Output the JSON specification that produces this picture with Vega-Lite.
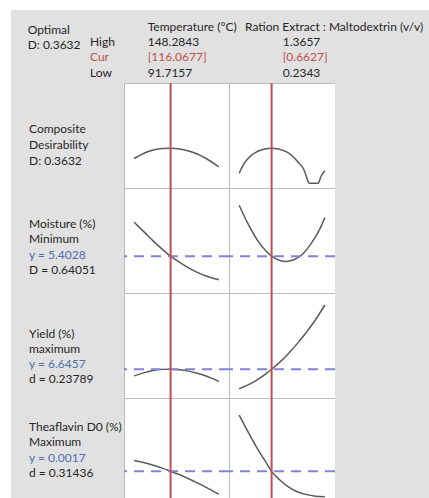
{
  "$schema": "https://vega.github.io/schema/vega-lite/v6.json",
  "background": "white",
  "padding": {"left": 11, "top": 10, "right": 0, "bottom": 0},
  "columns": 4,
  "spacing": 0,
  "bounds": "flush",
  "config": {"concat": {"spacing": 0}, "view": {"stroke": null}, "text": {"font": "Lato", "fontSize": 12}},
  "datasets": {
    "header": [
      {"col": "opt", "line": 0, "text": "Optimal", "kind": "k"},
      {"col": "opt", "line": 1, "text": "D: 0.3632", "kind": "k"},
      {"col": "lvl", "line": 1, "text": "High", "kind": "k"},
      {"col": "lvl", "line": 2, "text": "Cur", "kind": "c"},
      {"col": "lvl", "line": 3, "text": "Low", "kind": "k"},
      {"col": "T", "line": 0, "text": "Temperature (°C)", "kind": "k"},
      {"col": "T", "line": 1, "text": "148.2843", "kind": "k"},
      {"col": "T", "line": 2, "text": "[116.0677]", "kind": "c"},
      {"col": "T", "line": 3, "text": "91.7157", "kind": "k"},
      {"col": "Rh", "line": 0, "text": "Ration Extract : Maltodextrin (v/v)", "kind": "k"},
      {"col": "R", "line": 1, "text": "1.3657", "kind": "k"},
      {"col": "R", "line": 2, "text": "[0.6627]", "kind": "c"},
      {"col": "R", "line": 3, "text": "0.2343", "kind": "k"}
    ],
    "labels": [
      {"resp": "Composite", "line": 1, "text": "Composite", "kind": "k"},
      {"resp": "Composite", "line": 2, "text": "Desirability", "kind": "k"},
      {"resp": "Composite", "line": 3, "text": "D: 0.3632", "kind": "k"},
      {"resp": "Moisture", "line": 1, "text": "Moisture (%)", "kind": "k"},
      {"resp": "Moisture", "line": 2, "text": "Minimum", "kind": "k"},
      {"resp": "Moisture", "line": 3, "text": "y = 5.4028", "kind": "y"},
      {"resp": "Moisture", "line": 4, "text": "D = 0.64051", "kind": "k"},
      {"resp": "Yield", "line": 1, "text": "Yield (%)", "kind": "k"},
      {"resp": "Yield", "line": 2, "text": "maximum", "kind": "k"},
      {"resp": "Yield", "line": 3, "text": "y = 6.6457", "kind": "y"},
      {"resp": "Yield", "line": 4, "text": "d = 0.23789", "kind": "k"},
      {"resp": "Theaflavin", "line": 1, "text": "Theaflavin D0 (%)", "kind": "k"},
      {"resp": "Theaflavin", "line": 2, "text": "Maximum", "kind": "k"},
      {"resp": "Theaflavin", "line": 3, "text": "y = 0.0017", "kind": "y"},
      {"resp": "Theaflavin", "line": 4, "text": "d = 0.31436", "kind": "k"}
    ],
    "settings": [
      {"factor": "T", "cur": 116.0677},
      {"factor": "R", "cur": 0.6627}
    ],
    "targets": [
      {"resp": "Moisture", "y": 5.4028},
      {"resp": "Yield", "y": 6.6457},
      {"resp": "Theaflavin", "y": 0.0017}
    ],
    "curves": [
      {"resp": "Composite", "factor": "T", "x": 91.7157, "y": 0.257},
      {"resp": "Composite", "factor": "T", "x": 98.69, "y": 0.3145},
      {"resp": "Composite", "factor": "T", "x": 104.55, "y": 0.3457},
      {"resp": "Composite", "factor": "T", "x": 110.42, "y": 0.361},
      {"resp": "Composite", "factor": "T", "x": 116.0677, "y": 0.3632},
      {"resp": "Composite", "factor": "T", "x": 122.15, "y": 0.356},
      {"resp": "Composite", "factor": "T", "x": 128.02, "y": 0.335},
      {"resp": "Composite", "factor": "T", "x": 133.89, "y": 0.304},
      {"resp": "Composite", "factor": "T", "x": 139.75, "y": 0.257},
      {"resp": "Composite", "factor": "T", "x": 148.2843, "y": 0.169},
      {"resp": "Composite", "factor": "R", "x": 0.2343, "y": 0.104},
      {"resp": "Composite", "factor": "R", "x": 0.2997, "y": 0.2076},
      {"resp": "Composite", "factor": "R", "x": 0.4176, "y": 0.304},
      {"resp": "Composite", "factor": "R", "x": 0.5709, "y": 0.356},
      {"resp": "Composite", "factor": "R", "x": 0.6627, "y": 0.3632},
      {"resp": "Composite", "factor": "R", "x": 0.8539, "y": 0.328},
      {"resp": "Composite", "factor": "R", "x": 1.0072, "y": 0.224},
      {"resp": "Composite", "factor": "R", "x": 1.1016, "y": 0.12},
      {"resp": "Composite", "factor": "R", "x": 1.1252, "y": 0.06},
      {"resp": "Composite", "factor": "R", "x": 1.1487, "y": 0.0135},
      {"resp": "Composite", "factor": "R", "x": 1.1605, "y": 0},
      {"resp": "Composite", "factor": "R", "x": 1.2784, "y": 0},
      {"resp": "Composite", "factor": "R", "x": 1.3138, "y": 0.07},
      {"resp": "Composite", "factor": "R", "x": 1.3657, "y": 0.131},
      {"resp": "Moisture", "factor": "T", "x": 91.7157, "y": 6.7018},
      {"resp": "Moisture", "factor": "T", "x": 98.69, "y": 6.3088},
      {"resp": "Moisture", "factor": "T", "x": 104.55, "y": 5.9758},
      {"resp": "Moisture", "factor": "T", "x": 110.42, "y": 5.6728},
      {"resp": "Moisture", "factor": "T", "x": 116.0677, "y": 5.4028},
      {"resp": "Moisture", "factor": "T", "x": 122.15, "y": 5.1658},
      {"resp": "Moisture", "factor": "T", "x": 128.02, "y": 4.9588},
      {"resp": "Moisture", "factor": "T", "x": 133.89, "y": 4.7878},
      {"resp": "Moisture", "factor": "T", "x": 139.75, "y": 4.6468},
      {"resp": "Moisture", "factor": "T", "x": 148.2843, "y": 4.5028},
      {"resp": "Moisture", "factor": "R", "x": 0.2343, "y": 7.3438},
      {"resp": "Moisture", "factor": "R", "x": 0.3587, "y": 6.5938},
      {"resp": "Moisture", "factor": "R", "x": 0.4766, "y": 6.0058},
      {"resp": "Moisture", "factor": "R", "x": 0.5945, "y": 5.5798},
      {"resp": "Moisture", "factor": "R", "x": 0.6627, "y": 5.4028},
      {"resp": "Moisture", "factor": "R", "x": 0.7714, "y": 5.2378},
      {"resp": "Moisture", "factor": "R", "x": 0.8539, "y": 5.2018},
      {"resp": "Moisture", "factor": "R", "x": 0.9483, "y": 5.2558},
      {"resp": "Moisture", "factor": "R", "x": 1.0662, "y": 5.4688},
      {"resp": "Moisture", "factor": "R", "x": 1.1841, "y": 5.8828},
      {"resp": "Moisture", "factor": "R", "x": 1.302, "y": 6.4528},
      {"resp": "Moisture", "factor": "R", "x": 1.3657, "y": 6.8728},
      {"resp": "Yield", "factor": "T", "x": 91.7157, "y": 6.2657},
      {"resp": "Yield", "factor": "T", "x": 98.69, "y": 6.4507},
      {"resp": "Yield", "factor": "T", "x": 104.55, "y": 6.5707},
      {"resp": "Yield", "factor": "T", "x": 110.42, "y": 6.6357},
      {"resp": "Yield", "factor": "T", "x": 116.0677, "y": 6.6457},
      {"resp": "Yield", "factor": "T", "x": 122.15, "y": 6.6157},
      {"resp": "Yield", "factor": "T", "x": 128.02, "y": 6.5357},
      {"resp": "Yield", "factor": "T", "x": 133.89, "y": 6.4157},
      {"resp": "Yield", "factor": "T", "x": 139.75, "y": 6.2557},
      {"resp": "Yield", "factor": "T", "x": 148.2843, "y": 5.9457},
      {"resp": "Yield", "factor": "R", "x": 0.2343, "y": 5.5307},
      {"resp": "Yield", "factor": "R", "x": 0.3587, "y": 5.7607},
      {"resp": "Yield", "factor": "R", "x": 0.4766, "y": 6.0507},
      {"resp": "Yield", "factor": "R", "x": 0.5945, "y": 6.4057},
      {"resp": "Yield", "factor": "R", "x": 0.6627, "y": 6.6457},
      {"resp": "Yield", "factor": "R", "x": 0.7714, "y": 7.0507},
      {"resp": "Yield", "factor": "R", "x": 0.8893, "y": 7.5607},
      {"resp": "Yield", "factor": "R", "x": 1.0072, "y": 8.1357},
      {"resp": "Yield", "factor": "R", "x": 1.1251, "y": 8.7757},
      {"resp": "Yield", "factor": "R", "x": 1.243, "y": 9.4707},
      {"resp": "Yield", "factor": "R", "x": 1.3657, "y": 10.3157},
      {"resp": "Theaflavin", "factor": "T", "x": 91.7157, "y": 0.002192},
      {"resp": "Theaflavin", "factor": "T", "x": 98.69, "y": 0.002088},
      {"resp": "Theaflavin", "factor": "T", "x": 104.55, "y": 0.00197},
      {"resp": "Theaflavin", "factor": "T", "x": 110.42, "y": 0.001844},
      {"resp": "Theaflavin", "factor": "T", "x": 116.0677, "y": 0.0017},
      {"resp": "Theaflavin", "factor": "T", "x": 122.15, "y": 0.001544},
      {"resp": "Theaflavin", "factor": "T", "x": 128.02, "y": 0.001368},
      {"resp": "Theaflavin", "factor": "T", "x": 133.89, "y": 0.00118},
      {"resp": "Theaflavin", "factor": "T", "x": 139.75, "y": 0.00098},
      {"resp": "Theaflavin", "factor": "T", "x": 148.2843, "y": 0.000672},
      {"resp": "Theaflavin", "factor": "R", "x": 0.2343, "y": 0.004232},
      {"resp": "Theaflavin", "factor": "R", "x": 0.3587, "y": 0.003432},
      {"resp": "Theaflavin", "factor": "R", "x": 0.4766, "y": 0.002712},
      {"resp": "Theaflavin", "factor": "R", "x": 0.5945, "y": 0.002072},
      {"resp": "Theaflavin", "factor": "R", "x": 0.6627, "y": 0.0017},
      {"resp": "Theaflavin", "factor": "R", "x": 0.7714, "y": 0.001312},
      {"resp": "Theaflavin", "factor": "R", "x": 0.8893, "y": 0.000992},
      {"resp": "Theaflavin", "factor": "R", "x": 1.0072, "y": 0.000772},
      {"resp": "Theaflavin", "factor": "R", "x": 1.1251, "y": 0.000652},
      {"resp": "Theaflavin", "factor": "R", "x": 1.243, "y": 0.000584},
      {"resp": "Theaflavin", "factor": "R", "x": 1.3657, "y": 0.000552}
    ]
  },
  "concat": [
    {"width": 113, "height": 73, "view": {"fill": "#e1e1e1", "stroke": null}, "data": {"values": []}, "mark": "text"},
    {"width": 105, "height": 73, "view": {"fill": "#e1e1e1", "stroke": null}, "data": {"values": []}, "mark": "text"},
    {"width": 106, "height": 73, "view": {"fill": "#e1e1e1", "stroke": null}, "data": {"values": []}, "mark": "text"},
    {
      "width": 94, "height": 73,
      "view": {"fill": "#e1e1e1", "stroke": null},
      "data": {"name": "header"},
      "encoding": {
        "y": {"field": "line", "type": "quantitative", "scale": {"domain": [-1.0939, 3.6877], "reverse": true}, "axis": null},
        "text": {"field": "text"},
        "color": {"field": "kind", "type": "nominal", "scale": {"domain": ["k", "y", "c"], "range": ["#262626", "#4e6fae", "#c0504d"]}, "legend": null}
      },
      "layer": [
        {"transform": [{"filter": "datum.col === 'opt'"}], "mark": {"type": "text", "align": "left", "baseline": "middle", "dy": 3.5}, "encoding": {"x": {"value": -307.3}}},
        {"transform": [{"filter": "datum.col === 'lvl'"}], "mark": {"type": "text", "align": "left", "baseline": "middle"}, "encoding": {"x": {"value": -245}}},
        {"transform": [{"filter": "datum.col === 'T'"}], "mark": {"type": "text", "align": "left", "baseline": "middle"}, "encoding": {"x": {"value": -187.3}}},
        {"transform": [{"filter": "datum.col === 'Rh'"}], "mark": {"type": "text", "align": "left", "baseline": "middle"}, "encoding": {"x": {"value": -90}}},
        {"transform": [{"filter": "datum.col === 'R'"}], "mark": {"type": "text", "align": "left", "baseline": "middle"}, "encoding": {"x": {"value": -52.3}}}
      ]
    },
    {
      "width": 113, "height": 105, "view": {"fill": "#e1e1e1", "stroke": null},
      "data": {"name": "labels"}, "transform": [{"filter": "datum.resp === 'Composite'"}],
      "mark": {"type": "text", "align": "left", "baseline": "middle"},
      "encoding": {
        "x": {"value": 18},
        "y": {"field": "line", "type": "quantitative", "scale": {"domain": [-1.9333, 4.7333], "reverse": true}, "axis": null},
        "text": {"field": "text"},
        "color": {"field": "kind", "type": "nominal", "scale": {"domain": ["k", "y", "c"], "range": ["#262626", "#4e6fae", "#c0504d"]}, "legend": null}
      }
    },
    {
      "width": 105, "height": 105, "view": {"fill": "white", "stroke": "#bdbdbd"},
      "layer": [
        {"data": {"name": "curves"}, "transform": [{"filter": "datum.resp === 'Composite' && datum.factor === 'T'"}],
         "mark": {"type": "line", "color": "#5a5a5a", "strokeWidth": 1.5, "interpolate": "monotone", "clip": true},
         "encoding": {"x": {"field": "x", "type": "quantitative", "scale": {"domain": [89.3, 150.9]}, "axis": null},
                      "y": {"field": "y", "type": "quantitative", "scale": {"domain": [-0.049, 1.041]}, "axis": null}}},
        {"data": {"name": "settings"}, "transform": [{"filter": "datum.factor === 'T'"}],
         "mark": {"type": "rule", "color": "#c0504d", "strokeWidth": 2},
         "encoding": {"x": {"field": "cur", "type": "quantitative", "axis": null}}}
      ]
    },
    {
      "width": 106, "height": 105, "view": {"fill": "white", "stroke": "#bdbdbd"},
      "layer": [
        {"data": {"name": "curves"}, "transform": [{"filter": "datum.resp === 'Composite' && datum.factor === 'R'"}],
         "mark": {"type": "line", "color": "#5a5a5a", "strokeWidth": 1.5, "interpolate": "monotone", "clip": true},
         "encoding": {"x": {"field": "x", "type": "quantitative", "scale": {"domain": [0.17, 1.42]}, "axis": null},
                      "y": {"field": "y", "type": "quantitative", "scale": {"domain": [-0.049, 1.041]}, "axis": null}}},
        {"data": {"name": "settings"}, "transform": [{"filter": "datum.factor === 'R'"}],
         "mark": {"type": "rule", "color": "#c0504d", "strokeWidth": 2},
         "encoding": {"x": {"field": "cur", "type": "quantitative", "axis": null}}}
      ]
    },
    {"width": 94, "height": 105, "view": {"fill": "#e1e1e1", "stroke": null}, "data": {"values": []}, "mark": "text"},
    {
      "width": 113, "height": 105, "view": {"fill": "#e1e1e1", "stroke": null},
      "data": {"name": "labels"}, "transform": [{"filter": "datum.resp === 'Moisture'"}],
      "mark": {"type": "text", "align": "left", "baseline": "middle"},
      "encoding": {
        "x": {"value": 18},
        "y": {"field": "line", "type": "quantitative", "scale": {"domain": [-1.2984, 5.4758], "reverse": true}, "axis": null},
        "text": {"field": "text"},
        "color": {"field": "kind", "type": "nominal", "scale": {"domain": ["k", "y", "c"], "range": ["#262626", "#4e6fae", "#c0504d"]}, "legend": null}
      }
    },
    {
      "width": 105, "height": 105, "view": {"fill": "white", "stroke": "#bdbdbd"},
      "layer": [
        {"data": {"name": "curves"}, "transform": [{"filter": "datum.resp === 'Moisture' && datum.factor === 'T'"}],
         "mark": {"type": "line", "color": "#5a5a5a", "strokeWidth": 1.5, "interpolate": "monotone", "clip": true},
         "encoding": {"x": {"field": "x", "type": "quantitative", "scale": {"domain": [89.3, 150.9]}, "axis": null},
                      "y": {"field": "y", "type": "quantitative", "scale": {"domain": [4.3828, 7.5328]}, "axis": null}}},
        {"data": {"name": "targets"}, "transform": [{"filter": "datum.resp === 'Moisture'"}],
         "mark": {"type": "rule", "color": "#8282d8", "strokeWidth": 2, "strokeDash": [10, 7]},
         "encoding": {"y": {"field": "y", "type": "quantitative", "axis": null}}},
        {"data": {"name": "settings"}, "transform": [{"filter": "datum.factor === 'T'"}],
         "mark": {"type": "rule", "color": "#c0504d", "strokeWidth": 2},
         "encoding": {"x": {"field": "cur", "type": "quantitative", "axis": null}}}
      ]
    },
    {
      "width": 106, "height": 105, "view": {"fill": "white", "stroke": "#bdbdbd"},
      "layer": [
        {"data": {"name": "curves"}, "transform": [{"filter": "datum.resp === 'Moisture' && datum.factor === 'R'"}],
         "mark": {"type": "line", "color": "#5a5a5a", "strokeWidth": 1.5, "interpolate": "monotone", "clip": true},
         "encoding": {"x": {"field": "x", "type": "quantitative", "scale": {"domain": [0.17, 1.42]}, "axis": null},
                      "y": {"field": "y", "type": "quantitative", "scale": {"domain": [4.3828, 7.5328]}, "axis": null}}},
        {"data": {"name": "targets"}, "transform": [{"filter": "datum.resp === 'Moisture'"}],
         "mark": {"type": "rule", "color": "#8282d8", "strokeWidth": 2, "strokeDash": [10, 7]},
         "encoding": {"y": {"field": "y", "type": "quantitative", "axis": null}}},
        {"data": {"name": "settings"}, "transform": [{"filter": "datum.factor === 'R'"}],
         "mark": {"type": "rule", "color": "#c0504d", "strokeWidth": 2},
         "encoding": {"x": {"field": "cur", "type": "quantitative", "axis": null}}}
      ]
    },
    {"width": 94, "height": 105, "view": {"fill": "#e1e1e1", "stroke": null}, "data": {"values": []}, "mark": "text"},
    {
      "width": 113, "height": 105, "view": {"fill": "#e1e1e1", "stroke": null},
      "data": {"name": "labels"}, "transform": [{"filter": "datum.resp === 'Yield'"}],
      "mark": {"type": "text", "align": "left", "baseline": "middle"},
      "encoding": {
        "x": {"value": 18},
        "y": {"field": "line", "type": "quantitative", "scale": {"domain": [-1.7168, 5.2972], "reverse": true}, "axis": null},
        "text": {"field": "text"},
        "color": {"field": "kind", "type": "nominal", "scale": {"domain": ["k", "y", "c"], "range": ["#262626", "#4e6fae", "#c0504d"]}, "legend": null}
      }
    },
    {
      "width": 105, "height": 105, "view": {"fill": "white", "stroke": "#bdbdbd"},
      "layer": [
        {"data": {"name": "curves"}, "transform": [{"filter": "datum.resp === 'Yield' && datum.factor === 'T'"}],
         "mark": {"type": "line", "color": "#5a5a5a", "strokeWidth": 1.5, "interpolate": "monotone", "clip": true},
         "encoding": {"x": {"field": "x", "type": "quantitative", "scale": {"domain": [89.3, 150.9]}, "axis": null},
                      "y": {"field": "y", "type": "quantitative", "scale": {"domain": [5.3307, 10.5807]}, "axis": null}}},
        {"data": {"name": "targets"}, "transform": [{"filter": "datum.resp === 'Yield'"}],
         "mark": {"type": "rule", "color": "#8282d8", "strokeWidth": 2, "strokeDash": [10, 7]},
         "encoding": {"y": {"field": "y", "type": "quantitative", "axis": null}}},
        {"data": {"name": "settings"}, "transform": [{"filter": "datum.factor === 'T'"}],
         "mark": {"type": "rule", "color": "#c0504d", "strokeWidth": 2},
         "encoding": {"x": {"field": "cur", "type": "quantitative", "axis": null}}}
      ]
    },
    {
      "width": 106, "height": 105, "view": {"fill": "white", "stroke": "#bdbdbd"},
      "layer": [
        {"data": {"name": "curves"}, "transform": [{"filter": "datum.resp === 'Yield' && datum.factor === 'R'"}],
         "mark": {"type": "line", "color": "#5a5a5a", "strokeWidth": 1.5, "interpolate": "monotone", "clip": true},
         "encoding": {"x": {"field": "x", "type": "quantitative", "scale": {"domain": [0.17, 1.42]}, "axis": null},
                      "y": {"field": "y", "type": "quantitative", "scale": {"domain": [5.3307, 10.5807]}, "axis": null}}},
        {"data": {"name": "targets"}, "transform": [{"filter": "datum.resp === 'Yield'"}],
         "mark": {"type": "rule", "color": "#8282d8", "strokeWidth": 2, "strokeDash": [10, 7]},
         "encoding": {"y": {"field": "y", "type": "quantitative", "axis": null}}},
        {"data": {"name": "settings"}, "transform": [{"filter": "datum.factor === 'R'"}],
         "mark": {"type": "rule", "color": "#c0504d", "strokeWidth": 2},
         "encoding": {"x": {"field": "cur", "type": "quantitative", "axis": null}}}
      ]
    },
    {"width": 94, "height": 105, "view": {"fill": "#e1e1e1", "stroke": null}, "data": {"values": []}, "mark": "text"},
    {
      "width": 113, "height": 100, "view": {"fill": "#e1e1e1", "stroke": null},
      "data": {"name": "labels"}, "transform": [{"filter": "datum.resp === 'Theaflavin'"}],
      "mark": {"type": "text", "align": "left", "baseline": "middle"},
      "encoding": {
        "x": {"value": 18},
        "y": {"field": "line", "type": "quantitative", "scale": {"domain": [-0.862, 5.619], "reverse": true}, "axis": null},
        "text": {"field": "text"},
        "color": {"field": "kind", "type": "nominal", "scale": {"domain": ["k", "y", "c"], "range": ["#262626", "#4e6fae", "#c0504d"]}, "legend": null}
      }
    },
    {
      "width": 105, "height": 100, "view": {"fill": "white", "stroke": "#bdbdbd"},
      "layer": [
        {"data": {"name": "curves"}, "transform": [{"filter": "datum.resp === 'Theaflavin' && datum.factor === 'T'"}],
         "mark": {"type": "line", "color": "#5a5a5a", "strokeWidth": 1.5, "interpolate": "monotone", "clip": true},
         "encoding": {"x": {"field": "x", "type": "quantitative", "scale": {"domain": [89.3, 150.9]}, "axis": null},
                      "y": {"field": "y", "type": "quantitative", "scale": {"domain": [0.000512, 0.004512]}, "axis": null}}},
        {"data": {"name": "targets"}, "transform": [{"filter": "datum.resp === 'Theaflavin'"}],
         "mark": {"type": "rule", "color": "#8282d8", "strokeWidth": 2, "strokeDash": [10, 7]},
         "encoding": {"y": {"field": "y", "type": "quantitative", "axis": null}}},
        {"data": {"name": "settings"}, "transform": [{"filter": "datum.factor === 'T'"}],
         "mark": {"type": "rule", "color": "#c0504d", "strokeWidth": 2},
         "encoding": {"x": {"field": "cur", "type": "quantitative", "axis": null}}}
      ]
    },
    {
      "width": 106, "height": 100, "view": {"fill": "white", "stroke": "#bdbdbd"},
      "layer": [
        {"data": {"name": "curves"}, "transform": [{"filter": "datum.resp === 'Theaflavin' && datum.factor === 'R'"}],
         "mark": {"type": "line", "color": "#5a5a5a", "strokeWidth": 1.5, "interpolate": "monotone", "clip": true},
         "encoding": {"x": {"field": "x", "type": "quantitative", "scale": {"domain": [0.17, 1.42]}, "axis": null},
                      "y": {"field": "y", "type": "quantitative", "scale": {"domain": [0.000512, 0.004512]}, "axis": null}}},
        {"data": {"name": "targets"}, "transform": [{"filter": "datum.resp === 'Theaflavin'"}],
         "mark": {"type": "rule", "color": "#8282d8", "strokeWidth": 2, "strokeDash": [10, 7]},
         "encoding": {"y": {"field": "y", "type": "quantitative", "axis": null}}},
        {"data": {"name": "settings"}, "transform": [{"filter": "datum.factor === 'R'"}],
         "mark": {"type": "rule", "color": "#c0504d", "strokeWidth": 2},
         "encoding": {"x": {"field": "cur", "type": "quantitative", "axis": null}}}
      ]
    },
    {"width": 94, "height": 100, "view": {"fill": "#e1e1e1", "stroke": null}, "data": {"values": []}, "mark": "text"}
  ]
}
